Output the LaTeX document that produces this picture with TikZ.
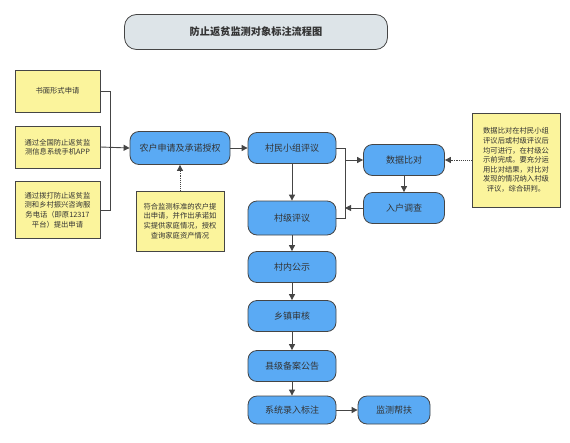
\documentclass[tikz,border=0pt]{standalone}
\usepackage{fontspec}
\newfontfamily\cjk{Noto Sans CJK SC}
\usetikzlibrary{arrows.meta,positioning}
\definecolor{boxblue}{HTML}{5AAAF4}
\definecolor{noteyellow}{HTML}{FBF49C}
\definecolor{titlegray}{HTML}{DDE4E8}
\definecolor{linegray}{HTML}{454545}
\definecolor{textgray}{HTML}{333333}

\tikzset{
  flow/.style={draw=linegray,fill=boxblue,rounded corners=9pt,line width=0.8pt,
    minimum width=88pt,minimum height=31pt,text=textgray,
    font=\cjk\fontsize{9}{10}\selectfont},
  note/.style={draw=linegray,fill=noteyellow,line width=0.7pt,align=center,
    text=textgray,inner sep=2pt,font=\cjk\fontsize{7.3}{9.6}\selectfont},
  conn/.style={draw=linegray,line width=0.9pt,-{Triangle[length=6pt,width=6pt]}},
  dotconn/.style={conn,densely dotted}
}

\begin{document}
\begin{tikzpicture}[x=1pt,y=-1pt]
  \useasboundingbox (0,0) rectangle (570,442);
  % title
  \node[draw=linegray,fill=titlegray,rounded corners=12pt,line width=0.8pt,
    minimum width=263pt,minimum height=35pt,text=textgray,
    font=\cjk\bfseries\fontsize{10.2}{12}\selectfont] (title) at (256,32) {防止返贫监测对象标注流程图};
  % ways to apply
  \node[note,minimum width=85pt,minimum height=42pt] (sm) at (57.5,91) {书面形式申请};
  \node[note,minimum width=85pt,minimum height=42pt] (app) at (57.5,147)
    {通过全国防止返贫监\\测信息系统手机APP};
  \node[note,minimum width=85pt,minimum height=57pt] (dh) at (57.5,210)
    {通过拨打防止返贫监\\测和乡村振兴咨询服\\务电话（即原12317\\平台）提出申请};
  % main flow
  \node[flow,minimum width=100pt,minimum height=33pt] (nh) at (180,148) {农户申请及承诺授权};
  \node[flow] (mz) at (292,148) {村民小组评议};
  \node[flow,minimum height=34pt] (cj) at (292,218) {村级评议};
  \node[flow,minimum width=81pt] (sj) at (404,160) {数据比对};
  \node[flow,minimum width=81pt] (rh) at (404,208) {入户调查};
  \node[flow] (cn) at (292,267) {村内公示};
  \node[flow] (xz) at (292,316) {乡镇审核};
  \node[flow] (xj) at (292,366) {县级备案公告};
  \node[flow,minimum height=28pt] (xt) at (292,410) {系统录入标注};
  \node[flow,minimum width=72pt,minimum height=28pt] (jc) at (394,410) {监测帮扶};
  % notes
  \node[note,minimum width=88pt,minimum height=60pt] (nt) at (180,221)
    {符合监测标准的农户提\\出申请，并作出承诺如\\实提供家庭情况，授权\\查询家庭资产情况};
  \node[note,minimum width=88pt,minimum height=94pt] (rn) at (516,160)
    {数据比对在村民小组\\评议后或村级评议后\\均可进行，在村级公\\示前完成。要充分运\\用比对结果，对比对\\发现的情况纳入村级\\评议，综合研判。};
  % connectors
  \coordinate (jn) at (110,148);
  \coordinate (jr) at (345,160);
  \draw[draw=linegray,line width=0.9pt] (sm.east) -| (jn) (dh.east) -| (jn);
  \draw[conn] (app.east) -- (nh.west);
  \draw[dotconn] (nt.north) -- (nh.south);
  \draw[conn] (nh) -- (mz);
  \draw[conn] (mz) -- (cj);
  \draw[draw=linegray,line width=0.9pt] (mz.east) -| (jr) (cj.east) -| (jr);
  \draw[conn] (jr) -- (sj.west);
  \draw[conn] (sj) -- (rh);
  \draw[conn] (rh.west) -- (rh.west -| jr);
  \draw[dotconn] (rn.west) -- (sj.east);
  \draw[conn] (cj) -- (cn);
  \draw[conn] (cn) -- (xz);
  \draw[conn] (xz) -- (xj);
  \draw[conn] (xj) -- (xt);
  \draw[conn] (xt) -- (jc);
\end{tikzpicture}
\end{document}
